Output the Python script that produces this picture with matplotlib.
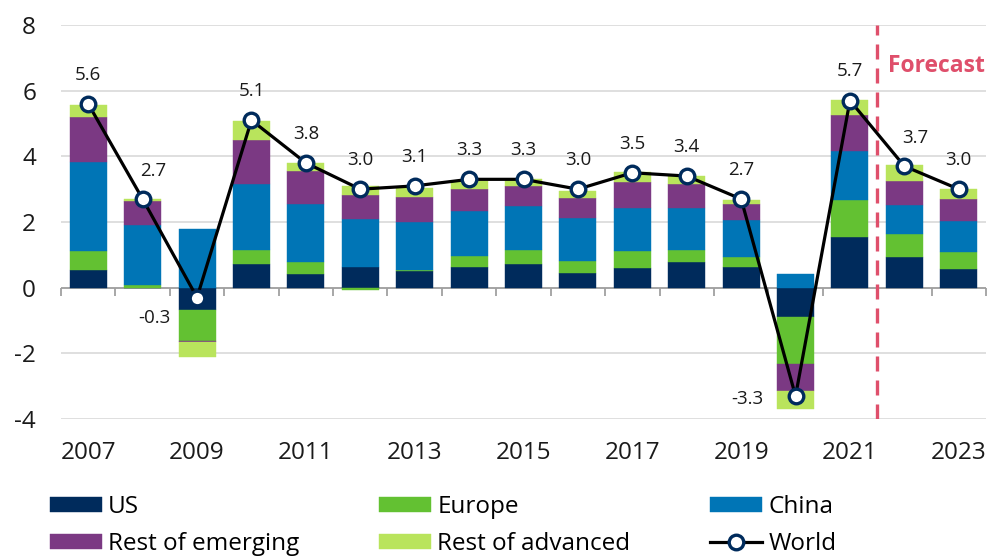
import matplotlib.pyplot as plt
import numpy as np

plt.rcParams['font.family'] = ['Open Sans', 'DejaVu Sans']
plt.rcParams['axes.unicode_minus'] = False

years = np.arange(2007, 2024)
us = [0.53, 0.00, -0.69, 0.72, 0.41, 0.62, 0.50, 0.62, 0.73, 0.45, 0.60, 0.77, 0.62, -0.90, 1.53, 0.92, 0.56]
europe = [0.60, 0.07, -0.93, 0.44, 0.36, -0.08, 0.05, 0.33, 0.43, 0.37, 0.52, 0.39, 0.30, -1.41, 1.13, 0.72, 0.52]
china = [2.70, 1.84, 1.79, 2.01, 1.79, 1.47, 1.46, 1.40, 1.32, 1.30, 1.30, 1.27, 1.13, 0.43, 1.51, 0.88, 0.95]
rest_emerging = [1.36, 0.74, -0.03, 1.34, 0.99, 0.73, 0.75, 0.67, 0.61, 0.60, 0.79, 0.73, 0.50, -0.85, 1.09, 0.73, 0.67]
rest_advanced = [0.36, 0.06, -0.46, 0.58, 0.24, 0.27, 0.28, 0.22, 0.23, 0.22, 0.32, 0.23, 0.13, -0.54, 0.47, 0.48, 0.32]
world = [5.6, 2.7, -0.3, 5.1, 3.8, 3.0, 3.1, 3.3, 3.3, 3.0, 3.5, 3.4, 2.7, -3.3, 5.7, 3.7, 3.0]
forecast_start = 2021.5

series = [
    ('US', us, '#002B5C'),
    ('Europe', europe, '#63C132'),
    ('China', china, '#0075B6'),
    ('Rest of emerging', rest_emerging, '#7B3983'),
    ('Rest of advanced', rest_advanced, '#B9E45C'),
]

# label offsets in points (default: straight above)
label_offsets = {2008: (8, 20), 2009: (-31, -15), 2020: (-35, -2), 2022: (8, 20)}

fig = plt.figure(figsize=(10, 5.56), dpi=100)
ax = fig.add_axes([0.061, 0.2464, 0.925, 0.7086])

pos_base = np.zeros(len(years))
neg_base = np.zeros(len(years))
bars = {}
for name, vals, col in series:
    v = np.array(vals)
    base = np.where(v >= 0, pos_base, neg_base)
    bars[name] = ax.bar(years, v, bottom=base, width=0.68, color=col, label=name, zorder=3,
                        edgecolor=col, linewidth=0.3)
    pos_base += np.where(v >= 0, v, 0)
    neg_base += np.where(v < 0, v, 0)

line, = ax.plot(years, world, color='black', lw=2.3, marker='o', markersize=10.5,
                markerfacecolor='white', markeredgecolor='#002B5C', markeredgewidth=2.4,
                label='World', zorder=5)

for yr, w in zip(years, world):
    dx, dy = label_offsets.get(yr, (0, 21))
    ax.annotate(f'{w:.1f}', (yr, w), xytext=(dx, dy), textcoords='offset points',
                ha='center', va='center', fontsize=13.5, color='#1A1A1A', zorder=6)

# zero line with ticks between bars
ax.axhline(0, color='#A0A0A0', lw=1.3, zorder=2)
bounds = np.append(years - 0.5, years[-1] + 0.5)
ax.vlines(bounds, -0.25, 0, color='#A0A0A0', lw=1.3, clip_on=False, zorder=2)

ax.axvline(forecast_start, color='#DF4F6B', lw=2.4, linestyle=(0, (4.5, 2.7)), zorder=4)
ax.text(forecast_start + 0.2, 6.75, 'Forecast', color='#DF4F6B', fontsize=16.5,
        fontweight='bold', ha='left', va='center')

ax.set_xlim(years[0] - 0.5, years[-1] + 0.5)
ax.set_ylim(-4, 8)
ax.set_yticks(np.arange(-4, 9, 2))
ax.set_xticks(years[::2])
ax.tick_params(axis='both', length=0, labelsize=17.5, colors='#1A1A1A')
ax.tick_params(axis='y', pad=18)
ax.tick_params(axis='x', pad=16)
ax.grid(axis='y', color='#D9D9D9', lw=1.2, zorder=0)
for s in ax.spines.values():
    s.set_visible(False)

# legend fills column-wise: order so rows read US/Europe/China, RoE/RoA/World
order = ['US', 'Rest of emerging', 'Europe', 'Rest of advanced', 'China']
handles = [bars[n] for n in order] + [line]
labels = order + ['World']
fig.legend(handles, labels, ncol=3, loc='upper left', bbox_to_anchor=(0.05, 0.11),
           frameon=False, fontsize=17.5, handlelength=2.13, handleheight=0.57,
           handletextpad=0.25, columnspacing=3.3, labelspacing=0.55,
           borderaxespad=0, borderpad=0)

fig.savefig('out.png', dpi=100)
